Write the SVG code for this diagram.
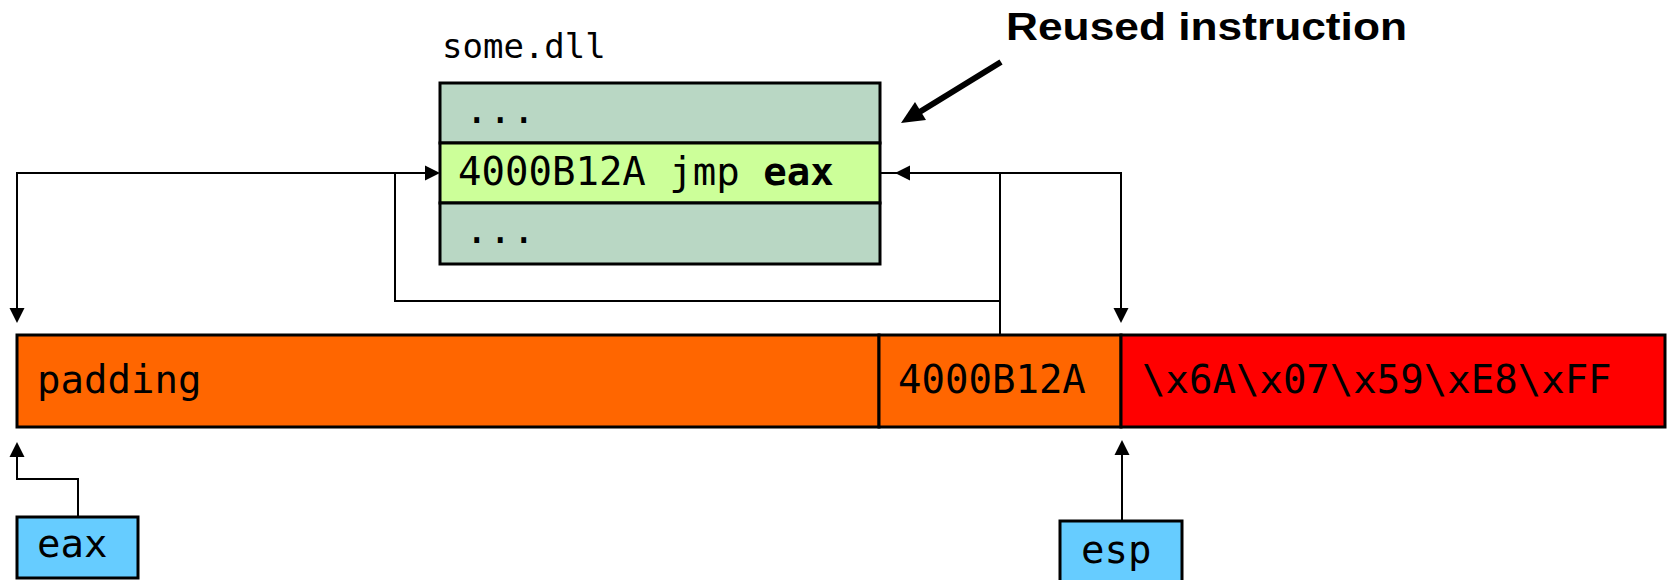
<svg xmlns="http://www.w3.org/2000/svg" width="1671" height="580" viewBox="0 0 1671 580">
<style>
.box{stroke:#000;stroke-width:3}
.mono{font-family:"DejaVu Sans Mono","Liberation Mono",monospace;fill:#000}
.t38{font-size:39px}
.conn{fill:none;stroke:#000;stroke-width:2}
.head{fill:#000}
</style>
<rect width="1671" height="580" fill="#fff"/>
<g id="title">
<text x="1006" y="40" font-family="'Liberation Sans',Arial,sans-serif" font-weight="bold" font-size="39" textLength="401" lengthAdjust="spacingAndGlyphs">Reused instruction</text>
<line x1="1001" y1="62" x2="918" y2="113" stroke="#000" stroke-width="6"/>
<polygon class="head" points="901,123 915,102 926,120"/>
</g>
<g id="dll">
<text class="mono" x="442" y="58" font-size="34">some.dll</text>
<rect class="box" x="440" y="83" width="440" height="60" fill="#B9D7C4"/>
<rect class="box" x="440" y="143" width="440" height="60" fill="#CCFF99"/>
<rect class="box" x="440" y="203" width="440" height="61" fill="#B9D7C4"/>
<text class="mono t38" x="465" y="123">...</text>
<text class="mono t38" x="458" y="185">4000B12A jmp <tspan font-weight="bold">eax</tspan></text>
<text class="mono t38" x="465" y="243">...</text>
</g>
<g id="padding">
<rect class="box" x="17" y="335" width="862" height="92" fill="#FF6600"/>
<text class="mono t38" x="37" y="393">padding</text>
</g>
<g id="retaddr">
<rect class="box" x="879" y="335" width="242" height="92" fill="#FF6600"/>
<text class="mono t38" x="898" y="393">4000B12A</text>
</g>
<g id="shellcode">
<rect class="box" x="1121" y="335" width="544" height="92" fill="#FF0000"/>
<text class="mono t38" x="1142" y="393">\x6A\x07\x59\xE8\xFF</text>
</g>
<g id="eax">
<rect class="box" x="17" y="517" width="121" height="61" fill="#66CCFF"/>
<text class="mono t38" x="37" y="557">eax</text>
</g>
<g id="esp">
<rect class="box" x="1060" y="521" width="122" height="62" fill="#66CCFF"/>
<text class="mono t38" x="1081" y="563">esp</text>
</g>
<g id="connectors">
<polyline class="conn" points="17,310 17,173 428,173"/>
<polygon class="head" points="440,173 425,165.5 425,180.5"/>
<polyline class="conn" points="1000,335 1000,301 395,301 395,173"/>
<polyline class="conn" points="880,173 1121,173 1121,310"/>
<polygon class="head" points="895,173 910,165.5 910,180.5"/>
<line class="conn" x1="1000" y1="173" x2="1000" y2="301"/>
<polygon class="head" points="17,323 9.5,308 24.5,308"/>
<polygon class="head" points="1121,323 1113.5,308 1128.5,308"/>
<polyline class="conn" points="78,517 78,479 17,479 17,455"/>
<polygon class="head" points="17,442 9.5,457 24.5,457"/>
<line class="conn" x1="1122" y1="521" x2="1122" y2="453"/>
<polygon class="head" points="1122,440 1114.5,455 1129.5,455"/>
</g>
</svg>
